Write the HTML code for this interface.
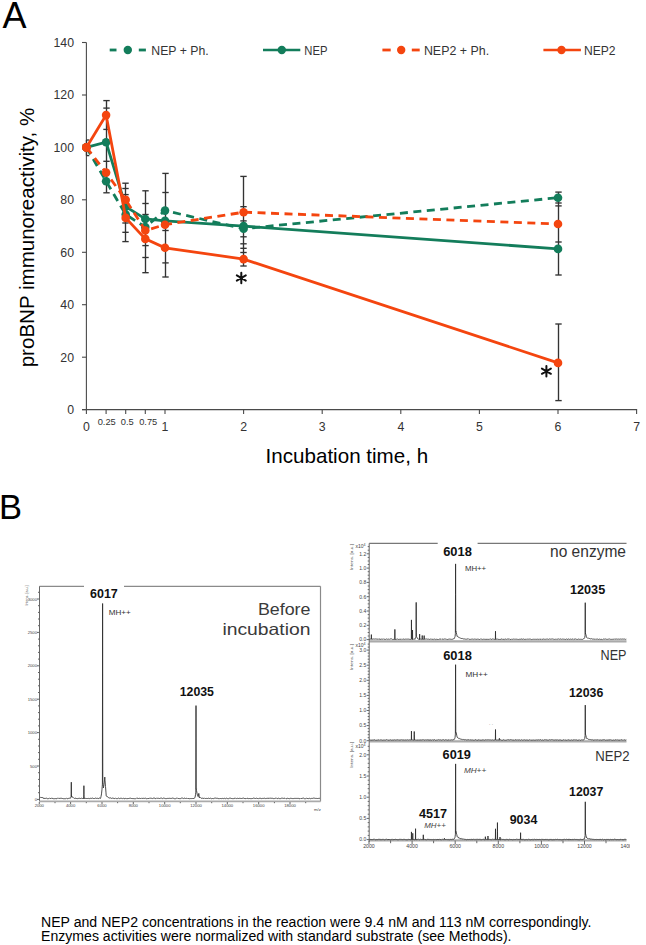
<!DOCTYPE html>
<html><head><meta charset="utf-8"><style>
html,body{margin:0;padding:0;background:#fff;width:646px;height:945px;overflow:hidden}
svg{display:block;font-family:'Liberation Sans', sans-serif}
</style></head><body>
<svg width="646" height="945" viewBox="0 0 646 945">
<text x="2.6" y="28.3" font-size="36" fill="#000">A</text>
<g stroke="#4a4a4a" stroke-width="1.1" fill="none">
<line x1="86.4" y1="42.5" x2="86.4" y2="409.6"/>
<line x1="82" y1="409.6" x2="637.1" y2="409.6"/>
<line x1="82" y1="409.6" x2="86.4" y2="409.6"/>
<line x1="82" y1="357.2" x2="86.4" y2="357.2"/>
<line x1="82" y1="304.7" x2="86.4" y2="304.7"/>
<line x1="82" y1="252.3" x2="86.4" y2="252.3"/>
<line x1="82" y1="199.8" x2="86.4" y2="199.8"/>
<line x1="82" y1="147.4" x2="86.4" y2="147.4"/>
<line x1="82" y1="95.0" x2="86.4" y2="95.0"/>
<line x1="82" y1="42.5" x2="86.4" y2="42.5"/>
<line x1="86.4" y1="409.6" x2="86.4" y2="413.9"/>
<line x1="106.1" y1="409.6" x2="106.1" y2="413.9"/>
<line x1="125.7" y1="409.6" x2="125.7" y2="413.9"/>
<line x1="145.3" y1="409.6" x2="145.3" y2="413.9"/>
<line x1="165.0" y1="409.6" x2="165.0" y2="413.9"/>
<line x1="243.6" y1="409.6" x2="243.6" y2="413.9"/>
<line x1="322.2" y1="409.6" x2="322.2" y2="413.9"/>
<line x1="400.8" y1="409.6" x2="400.8" y2="413.9"/>
<line x1="479.4" y1="409.6" x2="479.4" y2="413.9"/>
<line x1="558.0" y1="409.6" x2="558.0" y2="413.9"/>
<line x1="636.6" y1="409.6" x2="636.6" y2="413.9"/>
</g>
<g font-size="12.3" fill="#333333" text-anchor="end">
<text x="74" y="414.0">0</text>
<text x="74" y="361.6">20</text>
<text x="74" y="309.1">40</text>
<text x="74" y="256.7">60</text>
<text x="74" y="204.2">80</text>
<text x="74" y="151.8">100</text>
<text x="74" y="99.4">120</text>
<text x="74" y="46.9">140</text>
</g>
<g font-size="12.3" fill="#333333" text-anchor="middle">
<text x="86.4" y="430.5">0</text>
<text x="165.0" y="430.5">1</text>
<text x="243.6" y="430.5">2</text>
<text x="322.2" y="430.5">3</text>
<text x="400.8" y="430.5">4</text>
<text x="479.4" y="430.5">5</text>
<text x="558.0" y="430.5">6</text>
<text x="636.6" y="430.5">7</text>
</g>
<g font-size="9.3" fill="#333333" text-anchor="middle">
<text x="106.7" y="424.8">0.25</text><text x="127.3" y="424.8">0.5</text><text x="148.2" y="424.8">0.75</text>
</g>
<text transform="translate(34,367.3) rotate(-90)" font-size="20.3" fill="#000" textLength="259.5" lengthAdjust="spacingAndGlyphs">proBNP immunoreactivity, %</text>
<text x="265.6" y="463.4" font-size="20.2" fill="#000" textLength="162.5" lengthAdjust="spacingAndGlyphs">Incubation time, h</text>
<g stroke="#333" stroke-width="1.35" fill="none">
<line x1="86.5" y1="140.0" x2="86.5" y2="155.6"/>
<line x1="86.5" y1="140.0" x2="89.3" y2="140.0"/>
<line x1="86.5" y1="155.6" x2="89.3" y2="155.6"/>
<line x1="106.5" y1="100.6" x2="106.5" y2="192.8"/>
<line x1="103.3" y1="100.6" x2="109.7" y2="100.6"/>
<line x1="103.3" y1="108.1" x2="109.7" y2="108.1"/>
<line x1="103.3" y1="129.4" x2="109.7" y2="129.4"/>
<line x1="103.3" y1="161.3" x2="109.7" y2="161.3"/>
<line x1="103.3" y1="192.8" x2="109.7" y2="192.8"/>
<line x1="125.5" y1="183.2" x2="125.5" y2="241.6"/>
<line x1="122.3" y1="183.2" x2="128.7" y2="183.2"/>
<line x1="122.3" y1="188.5" x2="128.7" y2="188.5"/>
<line x1="122.3" y1="194.6" x2="128.7" y2="194.6"/>
<line x1="122.3" y1="223.0" x2="128.7" y2="223.0"/>
<line x1="122.3" y1="232.3" x2="128.7" y2="232.3"/>
<line x1="122.3" y1="241.6" x2="128.7" y2="241.6"/>
<line x1="145.5" y1="190.8" x2="145.5" y2="272.7"/>
<line x1="142.3" y1="190.8" x2="148.7" y2="190.8"/>
<line x1="142.3" y1="203.5" x2="148.7" y2="203.5"/>
<line x1="142.3" y1="214.5" x2="148.7" y2="214.5"/>
<line x1="142.3" y1="245.6" x2="148.7" y2="245.6"/>
<line x1="142.3" y1="257.5" x2="148.7" y2="257.5"/>
<line x1="142.3" y1="272.7" x2="148.7" y2="272.7"/>
<line x1="165.5" y1="173.4" x2="165.5" y2="277.0"/>
<line x1="162.3" y1="173.4" x2="168.7" y2="173.4"/>
<line x1="162.3" y1="192.5" x2="168.7" y2="192.5"/>
<line x1="162.3" y1="230.5" x2="168.7" y2="230.5"/>
<line x1="162.3" y1="262.9" x2="168.7" y2="262.9"/>
<line x1="162.3" y1="277.0" x2="168.7" y2="277.0"/>
<line x1="243.5" y1="176.4" x2="243.5" y2="266.0"/>
<line x1="240.3" y1="176.4" x2="246.7" y2="176.4"/>
<line x1="240.3" y1="206.7" x2="246.7" y2="206.7"/>
<line x1="240.3" y1="220.9" x2="246.7" y2="220.9"/>
<line x1="240.3" y1="236.8" x2="246.7" y2="236.8"/>
<line x1="240.3" y1="243.8" x2="246.7" y2="243.8"/>
<line x1="240.3" y1="248.3" x2="246.7" y2="248.3"/>
<line x1="240.3" y1="252.5" x2="246.7" y2="252.5"/>
<line x1="240.3" y1="266.0" x2="246.7" y2="266.0"/>
<line x1="558.5" y1="192.1" x2="558.5" y2="275.0"/>
<line x1="555.3" y1="192.1" x2="561.7" y2="192.1"/>
<line x1="555.3" y1="203.0" x2="561.7" y2="203.0"/>
<line x1="555.3" y1="205.9" x2="561.7" y2="205.9"/>
<line x1="555.3" y1="242.0" x2="561.7" y2="242.0"/>
<line x1="555.3" y1="275.0" x2="561.7" y2="275.0"/>
<line x1="558.5" y1="324.0" x2="558.5" y2="400.6"/>
<line x1="555.3" y1="324.0" x2="561.7" y2="324.0"/>
<line x1="555.3" y1="400.6" x2="561.7" y2="400.6"/>
</g>
<polyline points="86.4,147.4 106.1,181.2 125.7,214.5 145.3,227.1 165.0,210.6 243.6,228.7 558.0,197.7" fill="none" stroke="#137d5b" stroke-width="2.8" stroke-dasharray="8 5.5"/>
<circle cx="86.4" cy="147.4" r="4.3" fill="#137d5b"/>
<circle cx="106.1" cy="181.2" r="4.3" fill="#137d5b"/>
<circle cx="125.7" cy="214.5" r="4.3" fill="#137d5b"/>
<circle cx="145.3" cy="227.1" r="4.3" fill="#137d5b"/>
<circle cx="165.0" cy="210.6" r="4.3" fill="#137d5b"/>
<circle cx="243.6" cy="228.7" r="4.3" fill="#137d5b"/>
<circle cx="558.0" cy="197.7" r="4.3" fill="#137d5b"/>
<polyline points="86.4,147.4 106.1,142.2 125.7,206.7 145.3,219.0 165.0,220.8 243.6,226.1 558.0,248.9" fill="none" stroke="#137d5b" stroke-width="2.8"/>
<circle cx="86.4" cy="147.4" r="4.3" fill="#137d5b"/>
<circle cx="106.1" cy="142.2" r="4.3" fill="#137d5b"/>
<circle cx="125.7" cy="206.7" r="4.3" fill="#137d5b"/>
<circle cx="145.3" cy="219.0" r="4.3" fill="#137d5b"/>
<circle cx="165.0" cy="220.8" r="4.3" fill="#137d5b"/>
<circle cx="243.6" cy="226.1" r="4.3" fill="#137d5b"/>
<circle cx="558.0" cy="248.9" r="4.3" fill="#137d5b"/>
<polyline points="86.4,147.4 106.1,172.6 125.7,199.8 145.3,230.5 165.0,224.7 243.6,212.2 558.0,224.0" fill="none" stroke="#f4450f" stroke-width="2.8" stroke-dasharray="8 5.5"/>
<circle cx="86.4" cy="147.4" r="4.3" fill="#f4450f"/>
<circle cx="106.1" cy="172.6" r="4.3" fill="#f4450f"/>
<circle cx="125.7" cy="199.8" r="4.3" fill="#f4450f"/>
<circle cx="145.3" cy="230.5" r="4.3" fill="#f4450f"/>
<circle cx="165.0" cy="224.7" r="4.3" fill="#f4450f"/>
<circle cx="243.6" cy="212.2" r="4.3" fill="#f4450f"/>
<circle cx="558.0" cy="224.0" r="4.3" fill="#f4450f"/>
<polyline points="86.4,147.4 106.1,115.1 125.7,217.9 145.3,238.9 165.0,247.8 243.6,259.1 558.0,362.9" fill="none" stroke="#f4450f" stroke-width="2.8"/>
<circle cx="86.4" cy="147.4" r="4.3" fill="#f4450f"/>
<circle cx="106.1" cy="115.1" r="4.3" fill="#f4450f"/>
<circle cx="125.7" cy="217.9" r="4.3" fill="#f4450f"/>
<circle cx="145.3" cy="238.9" r="4.3" fill="#f4450f"/>
<circle cx="165.0" cy="247.8" r="4.3" fill="#f4450f"/>
<circle cx="243.6" cy="259.1" r="4.3" fill="#f4450f"/>
<circle cx="558.0" cy="362.9" r="4.3" fill="#f4450f"/>
<path d="M241.30,272.80L241.30,283.20M236.80,275.40L245.80,280.60M245.80,275.40L236.80,280.60" stroke="#111" stroke-width="2.0" stroke-linecap="round" fill="none"/><circle cx="241.3" cy="278" r="1.8" fill="#111"/>
<path d="M546.40,366.00L546.40,376.40M541.90,368.60L550.90,373.80M550.90,368.60L541.90,373.80" stroke="#111" stroke-width="2.0" stroke-linecap="round" fill="none"/><circle cx="546.4" cy="371.2" r="1.8" fill="#111"/>
<line x1="109.7" y1="50" x2="116.5" y2="50" stroke="#137d5b" stroke-width="2.8"/>
<circle cx="127.8" cy="50" r="4.2" fill="#137d5b"/>
<line x1="138.8" y1="50" x2="145.9" y2="50" stroke="#137d5b" stroke-width="2.8"/>
<text x="151.3" y="54.5" font-size="12.3" fill="#333333" textLength="57.4" lengthAdjust="spacingAndGlyphs">NEP + Ph.</text>
<line x1="263" y1="50" x2="300.3" y2="50" stroke="#137d5b" stroke-width="2.6"/><circle cx="281.8" cy="50" r="4.2" fill="#137d5b"/>
<text x="304.3" y="54.5" font-size="12.3" fill="#333333" textLength="23.2" lengthAdjust="spacingAndGlyphs">NEP</text>
<line x1="382.4" y1="50" x2="390.7" y2="50" stroke="#f4450f" stroke-width="2.8"/>
<circle cx="401.2" cy="50" r="4.2" fill="#f4450f"/>
<line x1="411.8" y1="50" x2="419.7" y2="50" stroke="#f4450f" stroke-width="2.8"/>
<text x="423.9" y="54.5" font-size="12.3" fill="#333333" textLength="65.2" lengthAdjust="spacingAndGlyphs">NEP2 + Ph.</text>
<line x1="543.4" y1="50" x2="580.9" y2="50" stroke="#f4450f" stroke-width="2.6"/><circle cx="561.5" cy="50" r="4.2" fill="#f4450f"/>
<text x="584" y="54.5" font-size="12.3" fill="#333333" textLength="31.6" lengthAdjust="spacingAndGlyphs">NEP2</text>
<text x="-0.9" y="518.8" font-size="34.5" fill="#000">B</text>
<g stroke="#8a8a8a" stroke-width="1.2" fill="none">
<line x1="39.5" y1="586.3" x2="84" y2="586.3"/><line x1="124" y1="586.3" x2="320.5" y2="586.3"/>
<line x1="320.5" y1="586.3" x2="320.5" y2="801.5"/>
</g>
<g stroke="#666" stroke-width="1" fill="none">
<line x1="39.5" y1="586.3" x2="39.5" y2="801.5"/>
<line x1="39.5" y1="801.3" x2="320.5" y2="801.3" stroke="#aaa" stroke-width="1.8"/>
<line x1="37.0" y1="799.4" x2="39.5" y2="799.4"/>
<line x1="38.0" y1="792.7" x2="39.5" y2="792.7"/>
<line x1="38.0" y1="786.0" x2="39.5" y2="786.0"/>
<line x1="38.0" y1="779.4" x2="39.5" y2="779.4"/>
<line x1="38.0" y1="772.7" x2="39.5" y2="772.7"/>
<line x1="37.0" y1="766.0" x2="39.5" y2="766.0"/>
<line x1="38.0" y1="759.3" x2="39.5" y2="759.3"/>
<line x1="38.0" y1="752.6" x2="39.5" y2="752.6"/>
<line x1="38.0" y1="746.0" x2="39.5" y2="746.0"/>
<line x1="38.0" y1="739.3" x2="39.5" y2="739.3"/>
<line x1="37.0" y1="732.6" x2="39.5" y2="732.6"/>
<line x1="38.0" y1="725.9" x2="39.5" y2="725.9"/>
<line x1="38.0" y1="719.2" x2="39.5" y2="719.2"/>
<line x1="38.0" y1="712.6" x2="39.5" y2="712.6"/>
<line x1="38.0" y1="705.9" x2="39.5" y2="705.9"/>
<line x1="37.0" y1="699.2" x2="39.5" y2="699.2"/>
<line x1="38.0" y1="692.5" x2="39.5" y2="692.5"/>
<line x1="38.0" y1="685.8" x2="39.5" y2="685.8"/>
<line x1="38.0" y1="679.2" x2="39.5" y2="679.2"/>
<line x1="38.0" y1="672.5" x2="39.5" y2="672.5"/>
<line x1="37.0" y1="665.8" x2="39.5" y2="665.8"/>
<line x1="38.0" y1="659.1" x2="39.5" y2="659.1"/>
<line x1="38.0" y1="652.4" x2="39.5" y2="652.4"/>
<line x1="38.0" y1="645.8" x2="39.5" y2="645.8"/>
<line x1="38.0" y1="639.1" x2="39.5" y2="639.1"/>
<line x1="37.0" y1="632.4" x2="39.5" y2="632.4"/>
<line x1="38.0" y1="625.7" x2="39.5" y2="625.7"/>
<line x1="38.0" y1="619.0" x2="39.5" y2="619.0"/>
<line x1="38.0" y1="612.4" x2="39.5" y2="612.4"/>
<line x1="38.0" y1="605.7" x2="39.5" y2="605.7"/>
<line x1="37.0" y1="599.0" x2="39.5" y2="599.0"/>
<line x1="38.0" y1="592.3" x2="39.5" y2="592.3"/>
<line x1="39.3" y1="802" x2="39.3" y2="804.2"/>
<line x1="55.0" y1="802" x2="55.0" y2="803.2"/>
<line x1="70.6" y1="802" x2="70.6" y2="804.2"/>
<line x1="86.3" y1="802" x2="86.3" y2="803.2"/>
<line x1="102.0" y1="802" x2="102.0" y2="804.2"/>
<line x1="117.6" y1="802" x2="117.6" y2="803.2"/>
<line x1="133.3" y1="802" x2="133.3" y2="804.2"/>
<line x1="149.0" y1="802" x2="149.0" y2="803.2"/>
<line x1="164.7" y1="802" x2="164.7" y2="804.2"/>
<line x1="180.3" y1="802" x2="180.3" y2="803.2"/>
<line x1="196.0" y1="802" x2="196.0" y2="804.2"/>
<line x1="211.7" y1="802" x2="211.7" y2="803.2"/>
<line x1="227.3" y1="802" x2="227.3" y2="804.2"/>
<line x1="243.0" y1="802" x2="243.0" y2="803.2"/>
<line x1="258.7" y1="802" x2="258.7" y2="804.2"/>
<line x1="274.4" y1="802" x2="274.4" y2="803.2"/>
<line x1="290.0" y1="802" x2="290.0" y2="804.2"/>
<line x1="305.7" y1="802" x2="305.7" y2="803.2"/>
</g>
<g font-size="4.2" fill="#444" text-anchor="end">
<text x="37" y="800.9">0</text>
<text x="37" y="767.5">500</text>
<text x="37" y="734.1">1000</text>
<text x="37" y="700.7">1500</text>
<text x="37" y="667.3">2000</text>
<text x="37" y="633.9">2500</text>
<text x="37" y="600.5">3000</text>
</g>
<g font-size="4.2" fill="#444" text-anchor="middle">
<text x="39.3" y="807.3">2000</text>
<text x="70.6" y="807.3">4000</text>
<text x="102.0" y="807.3">6000</text>
<text x="133.3" y="807.3">8000</text>
<text x="164.7" y="807.3">10000</text>
<text x="196.0" y="807.3">12000</text>
<text x="227.3" y="807.3">14000</text>
<text x="258.7" y="807.3">16000</text>
<text x="290.0" y="807.3">18000</text>
<text x="317.4" y="811">m/z</text>
</g>
<text transform="translate(28.3,605.4) rotate(-90)" font-size="3.6" fill="#444">Intens. [a.u.]</text>
<path d="M40.00,797.4 L40.50,797.4 L40.87,797.1 L41.00,797.3 L41.50,797.5 L42.00,797.3 L42.50,797.5 L43.00,798.3 L43.50,798.1 L43.87,798.2 L44.00,798.7 L44.50,798.4 L45.00,798.6 L45.50,798.4 L46.00,798.5 L46.50,798.2 L47.00,798.5 L47.50,798.7 L48.00,798.4 L48.50,798.6 L49.00,798.5 L49.50,798.1 L50.00,798.6 L50.50,798.5 L51.00,798.3 L51.50,798.1 L52.00,798.7 L52.50,798.4 L53.00,798.6 L53.50,798.7 L54.00,798.5 L54.50,798.7 L55.00,798.3 L55.50,798.6 L56.00,798.4 L56.50,798.7 L57.00,798.7 L57.50,798.1 L58.00,798.1 L58.50,798.2 L59.00,798.7 L59.50,798.4 L60.00,798.5 L60.50,798.3 L61.00,798.4 L61.50,798.3 L62.00,798.3 L62.50,798.5 L63.00,798.5 L63.50,798.7 L64.00,798.5 L64.50,798.7 L65.00,798.6 L65.50,798.7 L66.00,798.5 L66.50,798.2 L67.00,798.7 L67.50,798.7 L68.00,798.7 L68.50,798.4 L69.00,798.5 L69.50,798.2 L70.00,798.6 L70.50,798.2 L71.00,797.1 L71.15,796.4 L71.30,782.2 L71.45,796.5 L71.50,795.9 L72.00,797.0 L72.50,797.2 L73.00,797.4 L73.50,797.7 L74.00,798.2 L74.50,798.4 L75.00,797.9 L75.50,798.3 L76.00,798.0 L76.50,798.5 L77.00,798.2 L77.50,798.6 L78.00,798.7 L78.50,798.4 L79.00,798.7 L79.50,798.3 L80.00,798.1 L80.50,798.5 L81.00,798.1 L81.50,798.2 L82.00,798.3 L82.50,798.5 L83.00,798.2 L83.50,798.1 L83.75,798.7 L83.90,785.7 L84.00,794.5 L84.05,798.7 L84.50,798.3 L85.00,798.4 L85.50,798.4 L86.00,798.5 L86.50,798.5 L87.00,798.4 L87.50,798.5 L88.00,798.7 L88.50,798.4 L89.00,798.4 L89.50,798.6 L90.00,798.2 L90.50,798.3 L91.00,798.7 L91.50,798.4 L92.00,798.4 L92.50,798.1 L93.00,798.3 L93.50,798.5 L94.00,798.1 L94.50,798.5 L95.00,798.5 L95.50,798.1 L96.00,798.5 L96.50,798.4 L97.00,798.5 L97.50,798.3 L98.00,798.5 L98.50,798.6 L99.00,798.0 L99.50,798.0 L100.00,798.4 L100.50,798.4 L100.70,797.8 L101.00,796.6 L101.50,793.9 L102.00,789.2 L102.20,786.5 L102.40,784.2 L102.50,694.0 L102.60,603.5 L102.80,782.5 L103.00,784.3 L103.40,787.9 L103.50,787.0 L103.70,786.5 L104.00,784.3 L104.50,779.8 L104.80,777.1 L105.00,780.2 L105.50,786.5 L106.00,792.9 L106.20,795.6 L106.50,796.2 L107.00,796.2 L107.50,796.8 L108.00,797.1 L108.50,797.7 L109.00,797.6 L109.50,798.0 L110.00,797.7 L110.50,797.9 L111.00,798.2 L111.50,798.4 L112.00,798.2 L112.50,798.1 L113.00,798.0 L113.50,798.3 L114.00,798.1 L114.50,798.6 L115.00,798.6 L115.50,798.1 L116.00,798.2 L116.50,798.6 L117.00,798.5 L117.50,798.6 L118.00,798.3 L118.50,798.1 L119.00,798.2 L119.50,798.6 L120.00,798.2 L120.50,798.3 L121.00,798.3 L121.50,798.3 L122.00,798.3 L122.50,798.7 L123.00,798.2 L123.50,798.1 L124.00,798.7 L124.50,798.7 L125.00,798.7 L125.50,798.4 L126.00,798.7 L126.50,798.7 L127.00,798.2 L127.50,798.6 L128.00,798.6 L128.50,798.5 L129.00,798.4 L129.50,798.3 L130.00,798.3 L130.50,798.2 L131.00,798.1 L131.50,798.5 L132.00,798.3 L132.50,798.6 L133.00,798.1 L133.50,798.7 L134.00,798.5 L134.50,798.7 L135.00,798.7 L135.50,798.7 L136.00,798.5 L136.50,798.1 L137.00,798.6 L137.50,798.2 L138.00,798.3 L138.50,798.5 L139.00,798.4 L139.50,798.3 L140.00,798.7 L140.50,798.5 L141.00,798.3 L141.50,798.2 L142.00,798.7 L142.50,798.4 L143.00,798.6 L143.50,798.3 L144.00,798.2 L144.50,798.4 L145.00,798.6 L145.50,798.2 L146.00,798.6 L146.50,798.7 L147.00,798.6 L147.50,798.6 L148.00,798.1 L148.50,798.5 L149.00,798.7 L149.50,798.1 L150.00,798.2 L150.50,798.2 L151.00,798.4 L151.50,798.3 L152.00,798.4 L152.50,798.6 L153.00,798.1 L153.50,798.1 L154.00,798.1 L154.50,798.1 L155.00,798.1 L155.50,798.7 L156.00,798.6 L156.50,798.1 L157.00,798.4 L157.50,798.3 L158.00,798.3 L158.50,798.3 L159.00,798.5 L159.50,798.5 L160.00,798.3 L160.50,798.2 L161.00,798.3 L161.50,798.1 L162.00,798.4 L162.50,798.6 L163.00,798.3 L163.50,798.1 L164.00,798.2 L164.50,798.3 L165.00,798.5 L165.50,798.6 L166.00,798.3 L166.50,798.6 L167.00,798.5 L167.50,798.4 L168.00,798.3 L168.50,798.4 L169.00,798.5 L169.50,798.3 L170.00,798.5 L170.50,798.4 L171.00,798.2 L171.50,798.4 L172.00,798.5 L172.50,798.1 L173.00,798.3 L173.50,798.3 L174.00,798.7 L174.50,798.7 L175.00,798.3 L175.50,798.7 L176.00,798.6 L176.50,798.2 L177.00,798.4 L177.50,798.1 L178.00,798.6 L178.50,798.5 L179.00,798.7 L179.50,798.6 L180.00,798.5 L180.50,798.6 L181.00,798.4 L181.50,798.1 L182.00,798.5 L182.50,798.1 L183.00,798.2 L183.50,798.6 L184.00,798.1 L184.50,798.1 L185.00,798.1 L185.50,798.7 L186.00,798.2 L186.50,798.1 L187.00,798.6 L187.50,798.1 L188.00,798.6 L188.50,798.5 L189.00,798.6 L189.50,798.7 L190.00,798.5 L190.50,798.6 L191.00,798.1 L191.50,798.6 L192.00,798.4 L192.50,798.5 L193.00,798.1 L193.50,798.5 L194.00,798.6 L194.50,797.8 L195.00,797.6 L195.50,794.7 L195.80,792.2 L196.00,705.6 L196.20,789.0 L196.30,788.9 L196.50,790.4 L197.00,793.2 L197.50,795.6 L197.60,796.1 L198.00,796.5 L198.20,796.6 L198.50,795.2 L198.80,793.4 L199.00,795.0 L199.40,797.8 L199.50,797.5 L200.00,797.9 L200.50,797.6 L201.00,798.1 L201.50,798.3 L202.00,798.3 L202.50,798.2 L203.00,798.2 L203.50,798.4 L204.00,798.6 L204.50,798.1 L205.00,798.1 L205.50,798.5 L206.00,798.7 L206.50,798.4 L207.00,798.3 L207.50,798.5 L208.00,798.2 L208.50,798.2 L209.00,798.2 L209.50,798.5 L210.00,798.3 L210.50,798.2 L211.00,798.5 L211.50,798.7 L212.00,798.3 L212.50,798.5 L213.00,798.3 L213.50,798.6 L214.00,798.5 L214.50,798.2 L215.00,798.2 L215.50,798.1 L216.00,798.4 L216.50,798.3 L217.00,798.2 L217.50,798.3 L218.00,798.3 L218.50,798.6 L219.00,798.2 L219.50,798.7 L220.00,798.4 L220.50,798.5 L221.00,798.4 L221.50,798.6 L222.00,798.6 L222.50,798.4 L223.00,798.4 L223.50,798.6 L224.00,798.6 L224.50,798.3 L225.00,798.6 L225.50,798.7 L226.00,798.4 L226.50,798.2 L227.00,798.2 L227.50,798.6 L228.00,798.5 L228.50,798.7 L229.00,798.6 L229.50,798.2 L230.00,798.2 L230.50,798.2 L231.00,798.2 L231.50,798.5 L232.00,798.7 L232.50,798.7 L233.00,798.2 L233.50,798.7 L234.00,798.3 L234.50,798.3 L235.00,798.6 L235.50,798.1 L236.00,798.1 L236.50,798.6 L237.00,798.3 L237.50,798.3 L238.00,798.5 L238.50,798.5 L239.00,798.1 L239.50,798.3 L240.00,798.4 L240.50,798.4 L241.00,798.2 L241.50,798.5 L242.00,798.7 L242.50,798.3 L243.00,798.4 L243.50,798.1 L244.00,798.2 L244.50,798.5 L245.00,798.1 L245.50,798.7 L246.00,798.7 L246.50,798.1 L247.00,798.7 L247.50,798.3 L248.00,798.6 L248.50,798.6 L249.00,798.3 L249.50,798.5 L250.00,798.5 L250.50,798.6 L251.00,798.2 L251.50,798.6 L252.00,798.7 L252.50,798.5 L253.00,798.4 L253.50,798.1 L254.00,798.4 L254.50,798.3 L255.00,798.6 L255.50,798.5 L256.00,798.4 L256.50,798.2 L257.00,798.5 L257.50,798.5 L258.00,798.2 L258.50,798.7 L259.00,798.5 L259.50,798.1 L260.00,798.7 L260.50,798.1 L261.00,798.3 L261.50,798.6 L262.00,798.5 L262.50,798.4 L263.00,798.5 L263.50,798.4 L264.00,798.3 L264.50,798.2 L265.00,798.1 L265.50,798.6 L266.00,798.6 L266.50,798.4 L267.00,798.6 L267.50,798.3 L268.00,798.2 L268.50,798.3 L269.00,798.7 L269.50,798.1 L270.00,798.4 L270.50,798.2 L271.00,798.6 L271.50,798.3 L272.00,798.3 L272.50,798.3 L273.00,798.4 L273.50,798.6 L274.00,798.3 L274.50,798.6 L275.00,798.1 L275.50,798.2 L276.00,798.1 L276.50,798.1 L277.00,798.6 L277.50,798.6 L278.00,798.2 L278.50,798.2 L279.00,798.3 L279.50,798.6 L280.00,798.6 L280.50,798.6 L281.00,798.5 L281.50,798.2 L282.00,798.3 L282.50,798.2 L283.00,798.4 L283.50,798.4 L284.00,798.2 L284.50,798.2 L285.00,798.6 L285.50,798.1 L286.00,798.6 L286.50,798.7 L287.00,798.7 L287.50,798.3 L288.00,798.4 L288.50,798.5 L289.00,798.5 L289.50,798.7 L290.00,798.5 L290.50,798.3 L291.00,798.7 L291.50,798.4 L292.00,798.5 L292.50,798.6 L293.00,798.1 L293.50,798.6 L294.00,798.5 L294.50,798.4 L295.00,798.4 L295.50,798.4 L296.00,798.2 L296.50,798.4 L297.00,798.1 L297.50,798.4 L298.00,798.5 L298.50,798.4 L299.00,798.4 L299.50,798.7 L300.00,798.7 L300.50,798.1 L301.00,798.6 L301.50,798.5 L302.00,798.1 L302.50,798.3 L303.00,798.2 L303.50,798.1 L304.00,798.4 L304.50,798.7 L305.00,798.3 L305.50,798.7 L306.00,798.5 L306.50,798.1 L307.00,798.7 L307.50,798.5 L308.00,798.7 L308.50,798.6 L309.00,798.6 L309.50,798.3 L310.00,798.6 L310.50,798.7 L311.00,798.7 L311.50,798.4 L312.00,798.6 L312.50,798.4 L313.00,798.1 L313.50,798.1 L314.00,798.1 L314.50,798.2 L315.00,798.2 L315.50,798.4 L316.00,798.5 L316.50,798.4 L317.00,798.3 L317.50,798.5 L318.00,798.3 L318.50,798.4 L319.00,798.6 L319.50,798.3 L320.00,798.2" fill="none" stroke="#2a2a2a" stroke-width="0.85"/>
<text x="90" y="597.6" font-size="13.5" font-weight="bold" fill="#111" textLength="27.8" lengthAdjust="spacingAndGlyphs">6017</text>
<text x="108.7" y="615.3" font-size="8" fill="#333" textLength="22" lengthAdjust="spacingAndGlyphs">MH++</text>
<text x="257.9" y="614.7" font-size="16.5" fill="#3a3a3a" textLength="52.6" lengthAdjust="spacingAndGlyphs">Before</text>
<text x="222.4" y="635" font-size="16.5" fill="#3a3a3a" textLength="88.1" lengthAdjust="spacingAndGlyphs">incubation</text>
<text x="179.7" y="695.8" font-size="13.5" font-weight="bold" fill="#111" textLength="34.3" lengthAdjust="spacingAndGlyphs">12035</text>
<g stroke="#777" stroke-width="1.2" fill="none">
<line x1="369.2" y1="543.4" x2="437.7" y2="543.4"/><line x1="477.6" y1="543.4" x2="626.5" y2="543.4"/>
</g>
<g stroke="#aaa" stroke-width="2.4" fill="none">
<line x1="369.2" y1="641.4" x2="626.5" y2="641.4"/>
<line x1="369.2" y1="741.4" x2="626.5" y2="741.4"/>
<line x1="369.2" y1="840.4" x2="626.5" y2="840.4"/>
</g>
<g stroke="#666" stroke-width="1" fill="none"><line x1="369.2" y1="543.4" x2="369.2" y2="842"/>
<line x1="366.7" y1="639.6" x2="369.2" y2="639.6"/>
<line x1="367.7" y1="636.0" x2="369.2" y2="636.0"/>
<line x1="367.7" y1="632.5" x2="369.2" y2="632.5"/>
<line x1="367.7" y1="628.9" x2="369.2" y2="628.9"/>
<line x1="366.7" y1="625.3" x2="369.2" y2="625.3"/>
<line x1="367.7" y1="621.7" x2="369.2" y2="621.7"/>
<line x1="367.7" y1="618.1" x2="369.2" y2="618.1"/>
<line x1="367.7" y1="614.6" x2="369.2" y2="614.6"/>
<line x1="366.7" y1="611.0" x2="369.2" y2="611.0"/>
<line x1="367.7" y1="607.4" x2="369.2" y2="607.4"/>
<line x1="367.7" y1="603.9" x2="369.2" y2="603.9"/>
<line x1="367.7" y1="600.3" x2="369.2" y2="600.3"/>
<line x1="366.7" y1="596.7" x2="369.2" y2="596.7"/>
<line x1="367.7" y1="593.1" x2="369.2" y2="593.1"/>
<line x1="367.7" y1="589.6" x2="369.2" y2="589.6"/>
<line x1="367.7" y1="586.0" x2="369.2" y2="586.0"/>
<line x1="366.7" y1="582.4" x2="369.2" y2="582.4"/>
<line x1="367.7" y1="578.8" x2="369.2" y2="578.8"/>
<line x1="367.7" y1="575.2" x2="369.2" y2="575.2"/>
<line x1="367.7" y1="571.7" x2="369.2" y2="571.7"/>
<line x1="366.7" y1="568.1" x2="369.2" y2="568.1"/>
<line x1="367.7" y1="564.5" x2="369.2" y2="564.5"/>
<line x1="367.7" y1="561.0" x2="369.2" y2="561.0"/>
<line x1="367.7" y1="557.4" x2="369.2" y2="557.4"/>
<line x1="366.7" y1="553.8" x2="369.2" y2="553.8"/>
<line x1="367.7" y1="550.2" x2="369.2" y2="550.2"/>
<line x1="367.7" y1="546.6" x2="369.2" y2="546.6"/>
<line x1="366.7" y1="740.7" x2="369.2" y2="740.7"/>
<line x1="367.7" y1="737.7" x2="369.2" y2="737.7"/>
<line x1="367.7" y1="734.7" x2="369.2" y2="734.7"/>
<line x1="367.7" y1="731.6" x2="369.2" y2="731.6"/>
<line x1="367.7" y1="728.6" x2="369.2" y2="728.6"/>
<line x1="366.7" y1="725.6" x2="369.2" y2="725.6"/>
<line x1="367.7" y1="722.6" x2="369.2" y2="722.6"/>
<line x1="367.7" y1="719.6" x2="369.2" y2="719.6"/>
<line x1="367.7" y1="716.5" x2="369.2" y2="716.5"/>
<line x1="367.7" y1="713.5" x2="369.2" y2="713.5"/>
<line x1="366.7" y1="710.5" x2="369.2" y2="710.5"/>
<line x1="367.7" y1="707.5" x2="369.2" y2="707.5"/>
<line x1="367.7" y1="704.5" x2="369.2" y2="704.5"/>
<line x1="367.7" y1="701.4" x2="369.2" y2="701.4"/>
<line x1="367.7" y1="698.4" x2="369.2" y2="698.4"/>
<line x1="366.7" y1="695.4" x2="369.2" y2="695.4"/>
<line x1="367.7" y1="692.4" x2="369.2" y2="692.4"/>
<line x1="367.7" y1="689.4" x2="369.2" y2="689.4"/>
<line x1="367.7" y1="686.3" x2="369.2" y2="686.3"/>
<line x1="367.7" y1="683.3" x2="369.2" y2="683.3"/>
<line x1="366.7" y1="680.3" x2="369.2" y2="680.3"/>
<line x1="367.7" y1="677.3" x2="369.2" y2="677.3"/>
<line x1="367.7" y1="674.3" x2="369.2" y2="674.3"/>
<line x1="367.7" y1="671.2" x2="369.2" y2="671.2"/>
<line x1="367.7" y1="668.2" x2="369.2" y2="668.2"/>
<line x1="366.7" y1="665.2" x2="369.2" y2="665.2"/>
<line x1="367.7" y1="662.2" x2="369.2" y2="662.2"/>
<line x1="367.7" y1="659.2" x2="369.2" y2="659.2"/>
<line x1="367.7" y1="656.1" x2="369.2" y2="656.1"/>
<line x1="367.7" y1="653.1" x2="369.2" y2="653.1"/>
<line x1="366.7" y1="650.1" x2="369.2" y2="650.1"/>
<line x1="367.7" y1="647.1" x2="369.2" y2="647.1"/>
<line x1="367.7" y1="644.1" x2="369.2" y2="644.1"/>
<line x1="366.7" y1="839.6" x2="369.2" y2="839.6"/>
<line x1="367.7" y1="835.4" x2="369.2" y2="835.4"/>
<line x1="367.7" y1="831.1" x2="369.2" y2="831.1"/>
<line x1="367.7" y1="826.9" x2="369.2" y2="826.9"/>
<line x1="367.7" y1="822.6" x2="369.2" y2="822.6"/>
<line x1="366.7" y1="818.4" x2="369.2" y2="818.4"/>
<line x1="367.7" y1="814.2" x2="369.2" y2="814.2"/>
<line x1="367.7" y1="809.9" x2="369.2" y2="809.9"/>
<line x1="367.7" y1="805.7" x2="369.2" y2="805.7"/>
<line x1="367.7" y1="801.4" x2="369.2" y2="801.4"/>
<line x1="366.7" y1="797.2" x2="369.2" y2="797.2"/>
<line x1="367.7" y1="793.0" x2="369.2" y2="793.0"/>
<line x1="367.7" y1="788.7" x2="369.2" y2="788.7"/>
<line x1="367.7" y1="784.5" x2="369.2" y2="784.5"/>
<line x1="367.7" y1="780.2" x2="369.2" y2="780.2"/>
<line x1="366.7" y1="776.0" x2="369.2" y2="776.0"/>
<line x1="367.7" y1="771.8" x2="369.2" y2="771.8"/>
<line x1="367.7" y1="767.5" x2="369.2" y2="767.5"/>
<line x1="367.7" y1="763.3" x2="369.2" y2="763.3"/>
<line x1="367.7" y1="759.0" x2="369.2" y2="759.0"/>
<line x1="366.7" y1="754.8" x2="369.2" y2="754.8"/>
<line x1="367.7" y1="750.6" x2="369.2" y2="750.6"/>
<line x1="367.7" y1="746.3" x2="369.2" y2="746.3"/>
<line x1="369.0" y1="840.6" x2="369.0" y2="844.2"/>
<line x1="390.6" y1="840.6" x2="390.6" y2="843.2"/>
<line x1="412.1" y1="840.6" x2="412.1" y2="844.2"/>
<line x1="433.6" y1="840.6" x2="433.6" y2="843.2"/>
<line x1="455.2" y1="840.6" x2="455.2" y2="844.2"/>
<line x1="476.8" y1="840.6" x2="476.8" y2="843.2"/>
<line x1="498.3" y1="840.6" x2="498.3" y2="844.2"/>
<line x1="519.9" y1="840.6" x2="519.9" y2="843.2"/>
<line x1="541.4" y1="840.6" x2="541.4" y2="844.2"/>
<line x1="563.0" y1="840.6" x2="563.0" y2="843.2"/>
<line x1="584.5" y1="840.6" x2="584.5" y2="844.2"/>
<line x1="606.0" y1="840.6" x2="606.0" y2="843.2"/>
</g>
<g font-size="5" fill="#444" text-anchor="end">
<text x="366.3" y="641.4">0.0</text>
<text x="366.3" y="627.1">0.2</text>
<text x="366.3" y="612.8">0.4</text>
<text x="366.3" y="598.5">0.6</text>
<text x="366.3" y="584.2">0.8</text>
<text x="366.3" y="569.9">1.0</text>
<text x="366.3" y="555.6">1.2</text>
<text x="366.3" y="742.5">0.0</text>
<text x="366.3" y="727.4">0.5</text>
<text x="366.3" y="712.3">1.0</text>
<text x="366.3" y="697.2">1.5</text>
<text x="366.3" y="682.1">2.0</text>
<text x="366.3" y="667.0">2.5</text>
<text x="366.3" y="651.9">3.0</text>
<text x="366.3" y="841.4">0.0</text>
<text x="366.3" y="820.2">0.5</text>
<text x="366.3" y="799.0">1.0</text>
<text x="366.3" y="777.8">1.5</text>
<text x="366.3" y="756.6">2.0</text>
</g>
<text x="355.5" y="547.9000000000001" font-size="5" fill="#444">x10<tspan font-size="3.6" dy="-1.8">4</tspan></text>
<text x="355.5" y="646.7" font-size="5" fill="#444">x10<tspan font-size="3.6" dy="-1.8">4</tspan></text>
<text x="355.5" y="747.7" font-size="5" fill="#444">x10<tspan font-size="3.6" dy="-1.8">4</tspan></text>
<text transform="translate(352.8,570) rotate(-90)" font-size="4" fill="#555" textLength="26" lengthAdjust="spacingAndGlyphs">Intens. [a.u.]</text>
<text transform="translate(352.8,670) rotate(-90)" font-size="4" fill="#555" textLength="26" lengthAdjust="spacingAndGlyphs">Intens. [a.u.]</text>
<text transform="translate(352.8,767.8) rotate(-90)" font-size="4" fill="#555" textLength="26" lengthAdjust="spacingAndGlyphs">Intens. [a.u.]</text>
<svg x="0" y="0" width="630" height="945" overflow="hidden"><g font-size="5.2" fill="#444" text-anchor="middle">
<text x="369.0" y="848.4">2000</text>
<text x="412.1" y="848.4">4000</text>
<text x="455.2" y="848.4">6000</text>
<text x="498.3" y="848.4">8000</text>
<text x="541.4" y="848.4">10000</text>
<text x="584.5" y="848.4">12000</text>
<text x="627.6" y="848.4">14000</text>
</g></svg>
<path d="M369.50,639.4 L369.90,639.3 L370.30,639.1 L370.70,639.1 L371.10,639.2 L371.25,639.3 L371.37,634.6 L371.49,638.9 L371.50,639.0 L371.90,639.4 L372.30,639.0 L372.70,639.2 L373.10,639.0 L373.50,639.0 L373.90,639.0 L374.30,639.1 L374.70,639.0 L375.10,638.9 L375.50,639.0 L375.90,639.0 L376.30,639.2 L376.70,638.9 L377.10,638.9 L377.50,639.2 L377.90,639.1 L378.30,639.3 L378.70,638.9 L379.10,639.1 L379.50,639.1 L379.90,638.9 L380.30,639.5 L380.70,639.0 L381.10,639.0 L381.50,639.2 L381.90,639.0 L382.30,639.3 L382.70,639.1 L383.10,639.0 L383.50,638.9 L383.90,639.3 L384.30,639.1 L384.70,639.4 L385.10,639.2 L385.50,639.5 L385.90,639.1 L386.30,639.0 L386.70,639.1 L387.10,639.4 L387.50,639.3 L387.90,639.1 L388.30,639.0 L388.70,639.3 L389.10,639.5 L389.50,639.3 L389.90,638.9 L390.30,638.9 L390.70,639.0 L391.10,639.0 L391.50,638.9 L391.90,638.9 L392.30,639.3 L392.70,639.4 L393.10,639.0 L393.50,639.5 L393.90,639.2 L394.30,639.4 L394.70,639.5 L394.74,639.5 L394.86,629.4 L394.98,639.1 L395.10,639.3 L395.50,639.5 L395.90,639.0 L396.30,639.1 L396.70,639.4 L397.10,639.0 L397.50,639.1 L397.90,639.1 L398.30,639.3 L398.70,639.5 L399.10,639.0 L399.50,639.3 L399.90,639.3 L400.30,639.4 L400.70,639.2 L401.10,639.5 L401.50,639.1 L401.90,639.1 L402.30,639.0 L402.70,639.4 L403.10,639.2 L403.50,639.1 L403.90,639.0 L404.30,639.3 L404.70,639.3 L405.10,639.3 L405.50,639.1 L405.90,639.2 L406.30,639.0 L406.70,639.3 L407.10,638.9 L407.50,639.2 L407.90,639.4 L408.30,639.3 L408.70,639.0 L409.10,639.0 L409.50,639.4 L409.90,639.3 L410.30,639.4 L410.70,639.4 L411.10,639.2 L411.33,639.4 L411.45,619.9 L411.50,626.9 L411.57,638.5 L411.90,638.9 L412.30,639.1 L412.41,639.5 L412.53,630.0 L412.65,639.2 L412.70,639.0 L413.10,638.9 L413.50,639.3 L413.90,639.0 L414.30,638.9 L414.70,639.0 L414.91,639.3 L415.10,638.9 L415.50,637.7 L415.90,637.1 L416.07,637.2 L416.19,602.4 L416.30,632.2 L416.31,635.0 L416.41,636.4 L416.70,636.8 L417.10,637.8 L417.50,638.4 L417.90,639.0 L417.91,639.0 L418.30,638.9 L418.70,639.4 L419.10,639.0 L419.50,638.9 L419.52,639.5 L419.64,634.1 L419.76,639.3 L419.90,639.0 L420.30,639.2 L420.70,639.0 L421.10,639.4 L421.50,639.3 L421.90,639.3 L422.11,639.3 L422.23,635.5 L422.30,637.5 L422.35,639.3 L422.70,639.2 L423.10,639.0 L423.50,639.4 L423.90,639.3 L424.05,639.3 L424.17,635.6 L424.29,639.2 L424.30,639.2 L424.70,639.3 L425.10,638.9 L425.50,639.1 L425.90,639.2 L426.30,638.9 L426.70,639.2 L427.10,639.3 L427.50,639.2 L427.90,639.3 L428.30,639.3 L428.70,639.0 L429.10,639.1 L429.50,639.5 L429.90,639.1 L430.30,639.2 L430.70,639.0 L431.10,639.0 L431.50,639.0 L431.90,639.5 L432.30,639.3 L432.70,639.4 L433.10,639.5 L433.50,639.3 L433.90,639.5 L434.30,639.2 L434.70,639.2 L435.10,639.5 L435.50,639.4 L435.90,639.5 L436.30,639.2 L436.70,639.4 L437.10,639.1 L437.50,639.5 L437.90,639.5 L438.30,639.1 L438.70,639.5 L439.10,639.0 L439.50,639.0 L439.90,639.3 L440.30,639.1 L440.70,639.2 L441.10,639.3 L441.50,638.9 L441.90,639.3 L442.30,639.1 L442.70,639.2 L443.10,639.1 L443.50,639.3 L443.90,639.3 L444.30,639.1 L444.70,639.0 L445.10,639.1 L445.50,639.1 L445.90,638.9 L446.30,639.0 L446.70,639.4 L447.10,639.3 L447.50,639.5 L447.90,639.5 L448.30,639.4 L448.70,639.1 L449.10,639.0 L449.50,639.1 L449.90,639.2 L450.30,639.2 L450.70,639.2 L451.10,639.1 L451.50,639.4 L451.90,639.0 L452.30,639.1 L452.70,639.3 L453.10,639.2 L453.50,638.8 L453.90,638.5 L454.30,638.5 L454.70,637.4 L454.99,636.7 L455.10,636.3 L455.39,633.4 L455.50,594.4 L455.59,563.9 L455.79,631.8 L455.90,632.0 L456.09,631.5 L456.30,632.7 L456.70,634.4 L457.10,636.2 L457.19,636.0 L457.50,636.4 L457.90,636.6 L458.30,637.1 L458.70,637.3 L459.10,637.4 L459.50,637.9 L459.90,637.8 L460.30,638.0 L460.70,638.1 L461.10,638.6 L461.50,638.5 L461.90,638.4 L462.30,638.4 L462.70,638.7 L463.10,638.9 L463.50,638.9 L463.90,639.1 L464.30,639.1 L464.70,638.8 L465.10,638.8 L465.50,639.2 L465.90,639.2 L466.30,639.1 L466.70,639.3 L467.10,639.1 L467.50,639.0 L467.90,638.9 L468.30,638.8 L468.70,639.2 L469.10,639.4 L469.50,639.4 L469.90,639.1 L470.30,639.3 L470.70,639.4 L471.10,639.4 L471.50,639.2 L471.90,639.1 L472.30,639.2 L472.70,639.0 L473.10,639.0 L473.50,639.3 L473.90,639.5 L474.30,639.2 L474.70,639.1 L475.10,639.1 L475.50,639.2 L475.90,639.4 L476.30,639.2 L476.70,639.5 L477.10,639.0 L477.50,639.1 L477.90,639.2 L478.30,639.1 L478.70,639.4 L479.10,639.4 L479.50,639.5 L479.90,639.3 L480.30,638.9 L480.70,639.2 L481.10,639.2 L481.50,639.2 L481.90,639.1 L482.30,639.3 L482.70,639.4 L483.10,639.0 L483.50,639.3 L483.90,639.1 L484.30,639.2 L484.70,639.4 L485.10,639.5 L485.50,639.3 L485.90,639.0 L486.30,639.5 L486.70,639.0 L487.10,639.1 L487.50,639.4 L487.90,639.1 L488.30,639.1 L488.70,639.5 L489.10,639.5 L489.50,639.1 L489.90,639.1 L490.30,639.1 L490.70,639.0 L491.10,639.1 L491.50,639.5 L491.90,638.9 L492.30,639.0 L492.70,639.0 L493.10,638.9 L493.50,639.2 L493.90,639.3 L494.30,639.4 L494.70,639.3 L495.10,639.4 L495.38,638.8 L495.50,631.2 L495.62,639.5 L495.90,638.9 L496.30,639.1 L496.70,639.2 L497.10,639.1 L497.50,639.2 L497.90,638.9 L498.30,639.0 L498.70,639.5 L499.10,639.0 L499.50,639.4 L499.90,639.0 L500.30,639.5 L500.70,639.3 L501.10,639.3 L501.50,639.0 L501.90,638.9 L502.30,639.4 L502.70,639.0 L503.10,639.0 L503.50,639.4 L503.90,639.4 L504.30,638.9 L504.70,639.5 L505.10,639.2 L505.50,639.1 L505.90,639.0 L506.30,639.1 L506.70,639.5 L507.10,639.1 L507.50,639.0 L507.90,639.0 L508.30,639.0 L508.70,639.1 L509.10,639.4 L509.50,638.9 L509.90,639.0 L510.30,639.5 L510.70,639.5 L511.10,639.5 L511.50,639.0 L511.90,639.1 L512.30,639.5 L512.70,639.2 L513.10,639.3 L513.50,639.1 L513.90,638.9 L514.30,639.1 L514.70,639.3 L515.10,639.4 L515.50,639.2 L515.90,639.2 L516.30,639.2 L516.70,639.2 L517.10,639.2 L517.50,639.4 L517.90,639.0 L518.30,639.3 L518.70,639.5 L519.10,639.4 L519.50,639.0 L519.90,639.5 L520.30,639.4 L520.70,639.0 L521.10,639.1 L521.50,639.0 L521.90,638.9 L522.30,639.5 L522.70,639.1 L523.10,639.4 L523.50,639.0 L523.90,638.9 L524.30,639.4 L524.70,639.4 L525.10,639.5 L525.50,639.3 L525.90,639.2 L526.30,639.4 L526.70,639.0 L527.10,639.2 L527.50,639.2 L527.90,639.0 L528.30,639.3 L528.70,639.1 L529.10,639.2 L529.50,639.1 L529.90,639.1 L530.30,639.1 L530.70,639.3 L531.10,639.5 L531.50,639.5 L531.90,639.4 L532.30,639.4 L532.70,639.1 L533.10,639.5 L533.50,639.1 L533.90,639.0 L534.30,639.2 L534.70,639.3 L535.10,639.1 L535.50,639.3 L535.90,639.1 L536.30,639.5 L536.70,639.2 L537.10,639.2 L537.50,639.2 L537.90,639.4 L538.30,639.5 L538.70,639.2 L539.10,639.2 L539.50,639.3 L539.90,638.9 L540.30,639.2 L540.70,639.4 L541.10,639.4 L541.50,638.9 L541.90,639.4 L542.30,639.1 L542.70,639.5 L543.10,639.1 L543.50,639.0 L543.90,639.2 L544.30,639.4 L544.70,639.2 L545.10,639.4 L545.50,639.3 L545.90,639.1 L546.30,639.1 L546.70,639.2 L547.10,639.1 L547.50,639.1 L547.90,639.3 L548.30,639.4 L548.70,639.3 L549.10,639.0 L549.50,639.0 L549.90,639.1 L550.30,639.3 L550.70,639.0 L551.10,638.9 L551.50,639.1 L551.90,639.1 L552.30,638.9 L552.70,639.2 L553.10,639.5 L553.50,639.2 L553.90,639.3 L554.30,639.4 L554.70,639.4 L555.10,639.4 L555.50,639.2 L555.90,639.3 L556.30,639.0 L556.70,639.4 L557.10,639.1 L557.50,639.2 L557.90,639.4 L558.30,639.1 L558.70,639.0 L559.10,639.4 L559.50,639.3 L559.90,639.0 L560.30,638.9 L560.70,639.1 L561.10,638.9 L561.50,639.4 L561.90,639.0 L562.30,639.1 L562.70,639.1 L563.10,639.2 L563.50,639.2 L563.90,639.3 L564.30,639.3 L564.70,639.2 L565.10,639.0 L565.50,639.5 L565.90,639.3 L566.30,639.0 L566.70,639.2 L567.10,639.4 L567.50,639.5 L567.90,638.9 L568.30,638.9 L568.70,639.2 L569.10,639.2 L569.50,639.4 L569.90,639.4 L570.30,639.1 L570.70,639.2 L571.10,639.2 L571.50,639.4 L571.90,639.0 L572.30,639.1 L572.70,639.0 L573.10,639.3 L573.50,638.9 L573.90,639.5 L574.30,639.2 L574.70,639.2 L575.10,639.0 L575.50,639.0 L575.90,639.2 L576.30,639.4 L576.70,639.2 L577.10,639.1 L577.50,639.5 L577.90,639.3 L578.30,639.2 L578.70,639.0 L579.10,639.1 L579.50,639.4 L579.90,639.0 L580.30,639.2 L580.70,639.3 L581.10,639.1 L581.50,639.4 L581.90,639.4 L582.30,639.4 L582.70,639.3 L583.10,638.9 L583.50,638.8 L583.90,638.8 L584.30,638.4 L584.55,638.0 L584.70,637.7 L585.05,635.4 L585.10,628.0 L585.25,602.7 L585.45,632.8 L585.50,633.9 L585.55,633.5 L585.90,634.7 L586.30,636.3 L586.55,637.1 L586.70,637.5 L587.10,637.7 L587.50,638.2 L587.90,638.4 L588.30,638.0 L588.70,638.4 L589.10,638.5 L589.50,638.5 L589.90,638.6 L590.30,638.7 L590.70,639.0 L591.10,638.8 L591.50,638.7 L591.90,638.8 L592.30,639.0 L592.70,639.1 L593.10,638.9 L593.50,639.2 L593.90,638.9 L594.30,639.2 L594.70,639.2 L595.10,638.9 L595.50,639.3 L595.90,639.1 L596.30,639.2 L596.70,639.2 L597.10,639.3 L597.50,639.1 L597.90,638.9 L598.30,639.4 L598.70,639.4 L599.10,639.2 L599.50,639.2 L599.90,639.1 L600.30,639.4 L600.70,639.3 L601.10,639.0 L601.50,639.4 L601.90,639.5 L602.30,639.1 L602.70,639.5 L603.10,639.2 L603.50,639.0 L603.90,639.3 L604.30,639.1 L604.70,639.3 L605.10,639.2 L605.50,639.0 L605.90,639.2 L606.30,639.4 L606.70,639.2 L607.10,639.2 L607.50,639.4 L607.90,639.2 L608.30,639.2 L608.70,639.2 L609.10,639.4 L609.50,639.0 L609.90,639.0 L610.30,639.4 L610.70,639.2 L611.10,639.1 L611.50,639.4 L611.90,639.4 L612.30,639.2 L612.70,639.5 L613.10,639.4 L613.50,639.3 L613.90,639.1 L614.30,638.9 L614.70,639.3 L615.10,639.3 L615.50,639.1 L615.90,639.2 L616.30,639.2 L616.70,639.0 L617.10,639.3 L617.50,639.2 L617.90,639.1 L618.30,639.0 L618.70,639.2 L619.10,639.1 L619.50,639.3 L619.90,639.0 L620.30,639.1 L620.70,639.0 L621.10,639.1 L621.50,639.2 L621.90,639.0 L622.30,638.9 L622.70,639.2 L623.10,639.0 L623.50,639.2 L623.90,639.0 L624.30,639.0 L624.70,639.2 L625.10,639.5 L625.50,639.4 L625.90,639.2 L626.30,639.1" fill="none" stroke="#2a2a2a" stroke-width="0.85"/>
<path d="M369.50,739.7 L369.90,739.9 L370.30,739.9 L370.70,740.3 L371.10,739.8 L371.50,740.3 L371.90,740.0 L372.30,740.0 L372.70,739.9 L373.10,740.3 L373.50,739.8 L373.90,740.0 L374.30,740.0 L374.70,739.8 L375.10,739.8 L375.50,740.3 L375.90,740.2 L376.30,740.1 L376.70,740.2 L377.10,739.8 L377.50,740.1 L377.90,740.2 L378.30,739.8 L378.70,740.0 L379.10,740.3 L379.50,739.9 L379.90,740.2 L380.30,739.8 L380.70,740.1 L381.10,739.9 L381.50,740.0 L381.90,739.9 L382.30,740.2 L382.70,740.1 L383.10,740.0 L383.50,740.1 L383.90,740.0 L384.30,740.2 L384.70,739.9 L385.10,740.0 L385.50,740.1 L385.90,739.9 L386.30,739.7 L386.70,739.8 L387.10,740.1 L387.50,739.8 L387.90,740.2 L388.30,740.0 L388.70,740.3 L389.10,740.2 L389.50,740.1 L389.90,739.9 L390.30,739.7 L390.70,740.0 L391.10,740.1 L391.50,740.3 L391.90,739.8 L392.30,739.8 L392.70,740.3 L393.10,740.1 L393.50,740.0 L393.90,740.1 L394.30,739.8 L394.70,740.0 L395.10,740.1 L395.50,740.1 L395.90,739.8 L396.30,739.8 L396.70,740.1 L397.10,740.2 L397.50,739.8 L397.90,739.7 L398.30,739.7 L398.70,740.2 L399.10,739.9 L399.50,740.0 L399.90,740.3 L400.30,740.1 L400.70,739.9 L401.10,740.1 L401.50,739.7 L401.90,739.9 L402.30,740.1 L402.70,739.8 L403.10,739.7 L403.50,740.0 L403.90,739.9 L404.30,740.3 L404.70,739.8 L405.10,740.2 L405.50,739.9 L405.90,740.2 L406.30,740.0 L406.70,740.1 L407.10,739.9 L407.50,739.8 L407.90,740.0 L408.30,740.2 L408.70,739.9 L409.10,739.8 L409.50,739.9 L409.90,739.8 L410.30,739.9 L410.70,740.0 L411.10,740.0 L411.33,740.1 L411.45,731.1 L411.50,734.2 L411.57,739.5 L411.90,739.9 L412.30,739.8 L412.70,740.0 L413.10,739.9 L413.50,740.2 L413.90,740.1 L414.13,740.1 L414.25,731.5 L414.30,734.4 L414.38,740.0 L414.70,739.9 L415.10,739.7 L415.50,740.2 L415.90,740.0 L416.30,739.8 L416.70,740.3 L417.10,740.0 L417.50,740.1 L417.90,740.0 L418.30,739.8 L418.70,740.3 L419.10,739.8 L419.50,739.9 L419.90,740.3 L420.30,739.8 L420.70,740.0 L421.10,740.0 L421.50,739.8 L421.90,740.3 L422.30,739.9 L422.70,739.7 L423.10,740.0 L423.50,739.7 L423.90,740.1 L424.30,740.2 L424.70,740.2 L425.10,739.7 L425.50,740.1 L425.90,739.9 L426.30,740.0 L426.70,739.9 L427.10,739.9 L427.50,739.8 L427.90,740.1 L428.30,739.8 L428.70,740.3 L429.10,739.7 L429.50,740.3 L429.90,739.8 L430.30,739.8 L430.70,740.1 L431.10,740.0 L431.50,740.2 L431.90,740.0 L432.30,740.1 L432.70,739.7 L433.10,740.1 L433.50,740.0 L433.90,740.3 L434.30,739.7 L434.70,739.7 L435.10,740.1 L435.50,740.3 L435.90,740.0 L436.30,740.1 L436.70,740.0 L437.10,739.9 L437.50,740.0 L437.90,740.1 L438.30,739.7 L438.70,739.9 L439.10,740.1 L439.50,739.9 L439.90,740.0 L440.30,739.9 L440.70,739.9 L441.10,740.1 L441.50,740.1 L441.90,740.3 L442.30,740.0 L442.70,739.8 L443.10,739.9 L443.50,739.7 L443.90,739.8 L444.30,740.1 L444.70,740.1 L445.10,739.8 L445.50,739.8 L445.90,739.8 L446.30,739.8 L446.70,740.0 L447.10,739.9 L447.50,740.2 L447.90,740.0 L448.30,739.9 L448.70,740.0 L449.10,739.7 L449.50,740.1 L449.90,740.1 L450.30,739.9 L450.70,740.1 L451.10,739.9 L451.50,739.8 L451.90,739.8 L452.30,739.8 L452.70,740.0 L453.10,739.9 L453.50,739.8 L453.90,739.2 L454.30,739.3 L454.70,738.5 L454.99,737.7 L455.10,737.0 L455.39,734.1 L455.50,695.0 L455.59,664.7 L455.79,732.9 L455.90,732.7 L456.09,732.5 L456.30,733.0 L456.70,735.2 L457.10,736.9 L457.19,737.2 L457.50,737.6 L457.90,737.5 L458.30,738.1 L458.70,738.5 L459.10,738.2 L459.50,738.7 L459.90,739.1 L460.30,738.8 L460.70,739.3 L461.10,739.4 L461.50,739.3 L461.90,739.2 L462.30,739.3 L462.70,739.7 L463.10,739.5 L463.50,739.5 L463.90,739.7 L464.30,740.0 L464.70,739.6 L465.10,739.5 L465.50,740.1 L465.90,739.7 L466.30,739.8 L466.70,740.2 L467.10,739.8 L467.50,739.7 L467.90,740.2 L468.30,739.8 L468.70,739.8 L469.10,740.2 L469.50,739.8 L469.90,740.2 L470.30,739.9 L470.70,739.8 L471.10,739.8 L471.50,740.0 L471.90,740.0 L472.30,739.9 L472.70,740.0 L473.10,739.9 L473.50,740.2 L473.90,740.2 L474.30,740.1 L474.70,740.2 L475.10,739.7 L475.50,739.8 L475.90,739.8 L476.30,739.8 L476.70,740.3 L477.10,740.2 L477.50,740.2 L477.90,740.0 L478.30,739.8 L478.70,740.0 L479.10,739.7 L479.50,740.2 L479.90,739.9 L480.30,739.9 L480.70,740.3 L481.10,739.8 L481.50,740.3 L481.90,739.9 L482.30,740.1 L482.70,739.8 L483.10,740.2 L483.50,739.9 L483.90,739.9 L484.30,740.1 L484.70,740.1 L485.10,739.9 L485.50,739.8 L485.90,740.0 L486.30,739.7 L486.70,740.2 L487.10,739.9 L487.50,739.8 L487.90,739.9 L488.30,739.8 L488.70,739.9 L489.10,740.0 L489.50,739.9 L489.90,739.9 L490.30,739.9 L490.70,740.0 L491.10,740.2 L491.50,740.0 L491.90,740.2 L492.30,740.0 L492.70,739.8 L493.10,739.8 L493.50,740.2 L493.90,740.0 L494.30,739.9 L494.70,740.0 L495.10,740.2 L495.38,739.8 L495.50,729.5 L495.62,739.9 L495.90,739.7 L496.30,740.0 L496.70,740.0 L497.10,740.0 L497.50,740.0 L497.90,740.0 L498.30,740.1 L498.70,739.8 L499.10,740.3 L499.26,739.7 L499.38,738.3 L499.50,739.8 L499.90,740.2 L500.30,739.9 L500.70,739.7 L501.10,740.0 L501.50,740.2 L501.90,740.2 L502.30,740.2 L502.70,740.3 L503.10,739.7 L503.50,739.9 L503.90,739.8 L504.30,740.2 L504.70,740.0 L505.10,740.1 L505.50,740.2 L505.90,740.3 L506.30,740.1 L506.70,740.2 L507.10,740.0 L507.50,739.7 L507.90,740.2 L508.30,739.8 L508.70,739.8 L509.10,740.2 L509.50,739.9 L509.90,740.1 L510.30,739.7 L510.70,739.8 L511.10,740.1 L511.50,739.7 L511.90,740.0 L512.30,740.3 L512.70,739.8 L513.10,740.1 L513.50,740.1 L513.90,740.1 L514.30,740.2 L514.70,740.1 L515.10,739.7 L515.50,739.8 L515.90,740.0 L516.30,740.3 L516.70,739.8 L517.10,740.1 L517.50,739.8 L517.90,740.2 L518.30,740.0 L518.70,740.0 L519.10,740.1 L519.50,739.8 L519.90,740.1 L520.30,740.2 L520.70,740.2 L521.10,739.9 L521.50,739.8 L521.90,739.8 L522.30,740.2 L522.70,740.0 L523.10,739.9 L523.50,740.0 L523.90,740.1 L524.30,739.9 L524.70,739.9 L525.10,740.2 L525.50,740.2 L525.90,739.9 L526.30,739.7 L526.70,740.3 L527.10,740.1 L527.50,740.1 L527.90,739.9 L528.30,740.3 L528.70,740.0 L529.10,739.8 L529.50,739.8 L529.90,739.9 L530.30,740.1 L530.70,739.9 L531.10,740.3 L531.50,740.1 L531.90,740.0 L532.30,740.1 L532.70,740.1 L533.10,740.1 L533.50,740.0 L533.90,740.0 L534.30,740.0 L534.70,740.2 L535.10,739.8 L535.50,740.2 L535.90,739.9 L536.30,740.2 L536.70,739.7 L537.10,740.0 L537.50,740.0 L537.90,740.1 L538.30,739.8 L538.70,739.9 L539.10,739.8 L539.50,740.0 L539.90,740.0 L540.30,739.7 L540.70,739.8 L541.10,739.8 L541.50,740.3 L541.90,740.0 L542.30,740.0 L542.70,739.9 L543.10,740.1 L543.50,740.2 L543.90,740.1 L544.30,739.7 L544.70,740.0 L545.10,740.0 L545.50,739.7 L545.90,740.2 L546.30,739.9 L546.70,739.9 L547.10,740.1 L547.50,740.1 L547.90,740.0 L548.30,740.2 L548.70,740.0 L549.10,739.9 L549.50,739.7 L549.90,740.0 L550.30,739.9 L550.70,740.0 L551.10,739.9 L551.50,739.7 L551.90,739.7 L552.30,739.8 L552.70,739.8 L553.10,740.2 L553.50,740.0 L553.90,739.8 L554.30,740.1 L554.70,740.1 L555.10,739.7 L555.50,740.2 L555.90,739.8 L556.30,740.3 L556.70,739.8 L557.10,739.9 L557.50,739.8 L557.90,740.2 L558.30,740.2 L558.70,740.0 L559.10,739.8 L559.50,740.0 L559.90,740.1 L560.30,739.7 L560.70,740.3 L561.10,740.2 L561.50,740.3 L561.90,740.1 L562.30,740.1 L562.70,740.3 L563.10,739.9 L563.50,739.9 L563.90,739.8 L564.30,739.8 L564.70,740.2 L565.10,739.8 L565.50,740.1 L565.90,739.9 L566.30,740.2 L566.70,740.2 L567.10,740.1 L567.50,740.2 L567.90,739.7 L568.30,739.9 L568.70,739.9 L569.10,740.0 L569.50,740.1 L569.90,740.2 L570.30,740.1 L570.70,740.3 L571.10,740.1 L571.50,739.9 L571.90,740.0 L572.30,740.1 L572.70,740.2 L573.10,739.9 L573.50,739.9 L573.90,740.1 L574.30,739.8 L574.70,740.2 L575.10,739.7 L575.50,740.1 L575.90,740.0 L576.30,739.8 L576.70,740.0 L577.10,740.0 L577.50,740.3 L577.90,740.2 L578.30,740.1 L578.70,740.2 L579.10,740.2 L579.50,739.8 L579.90,740.2 L580.30,740.2 L580.70,740.3 L581.10,740.2 L581.50,739.9 L581.90,739.8 L582.30,740.1 L582.70,739.8 L583.10,740.1 L583.50,739.9 L583.90,739.9 L584.30,739.3 L584.55,738.9 L584.70,738.6 L585.08,735.7 L585.10,732.3 L585.28,705.1 L585.48,734.4 L585.50,734.5 L585.55,734.3 L585.90,735.6 L586.30,737.5 L586.55,738.4 L586.70,738.5 L587.10,738.4 L587.50,738.6 L587.90,739.1 L588.30,739.3 L588.70,739.3 L589.10,739.2 L589.50,739.6 L589.90,739.5 L590.30,739.5 L590.70,739.7 L591.10,739.7 L591.50,739.8 L591.90,739.9 L592.30,740.1 L592.70,739.6 L593.10,739.9 L593.50,740.2 L593.90,740.0 L594.30,740.0 L594.70,740.1 L595.10,739.7 L595.50,740.1 L595.90,740.0 L596.30,740.0 L596.70,739.9 L597.10,740.0 L597.50,739.8 L597.90,740.0 L598.30,739.8 L598.70,740.2 L599.10,740.2 L599.50,740.0 L599.90,740.1 L600.30,739.9 L600.70,740.0 L601.10,739.8 L601.50,740.2 L601.90,740.2 L602.30,740.2 L602.70,739.7 L603.10,740.2 L603.50,739.7 L603.90,740.0 L604.30,740.0 L604.70,739.7 L605.10,740.0 L605.50,740.2 L605.90,740.1 L606.30,739.9 L606.70,740.2 L607.10,739.9 L607.50,740.2 L607.90,739.9 L608.30,739.7 L608.70,740.3 L609.10,739.7 L609.50,739.9 L609.90,740.2 L610.30,739.8 L610.70,740.0 L611.10,740.2 L611.50,740.1 L611.90,739.9 L612.30,740.2 L612.70,740.2 L613.10,740.0 L613.50,740.1 L613.90,739.9 L614.30,739.9 L614.70,740.3 L615.10,740.3 L615.50,739.7 L615.90,739.8 L616.30,739.8 L616.70,740.2 L617.10,739.8 L617.50,739.8 L617.90,740.2 L618.30,739.8 L618.70,740.3 L619.10,740.0 L619.50,740.2 L619.90,740.2 L620.30,739.8 L620.70,740.2 L621.10,739.9 L621.50,739.8 L621.90,739.7 L622.30,740.1 L622.70,740.0 L623.10,739.9 L623.50,740.2 L623.90,739.8 L624.30,740.0 L624.70,739.8 L625.10,739.9 L625.50,740.2 L625.90,740.0 L626.30,739.8" fill="none" stroke="#2a2a2a" stroke-width="0.85"/>
<path d="M369.50,839.3 L369.90,839.6 L370.30,839.4 L370.70,839.7 L371.10,839.2 L371.50,839.7 L371.90,839.6 L372.30,839.7 L372.70,839.4 L373.10,839.2 L373.50,839.3 L373.90,839.6 L374.30,839.2 L374.70,839.3 L375.10,839.7 L375.50,839.7 L375.90,839.7 L376.30,839.7 L376.70,839.5 L377.10,839.7 L377.50,839.6 L377.90,839.5 L378.30,839.5 L378.70,839.2 L379.10,839.3 L379.50,839.3 L379.90,839.5 L380.30,839.3 L380.70,839.8 L381.10,839.5 L381.50,839.6 L381.90,839.7 L382.30,839.3 L382.70,839.7 L383.10,839.8 L383.50,839.4 L383.90,839.3 L384.30,839.7 L384.70,839.7 L385.10,839.7 L385.50,839.4 L385.90,839.6 L386.30,839.3 L386.70,839.3 L387.10,839.5 L387.50,839.6 L387.90,839.3 L388.30,839.8 L388.70,839.2 L389.10,839.8 L389.50,839.3 L389.90,839.7 L390.30,839.7 L390.70,839.8 L391.10,839.5 L391.50,839.6 L391.90,839.4 L392.30,839.7 L392.70,839.3 L393.10,839.7 L393.50,839.6 L393.90,839.2 L394.30,839.8 L394.70,839.4 L395.10,839.2 L395.50,839.4 L395.90,839.2 L396.30,839.4 L396.70,839.6 L397.10,839.8 L397.50,839.6 L397.90,839.7 L398.30,839.7 L398.70,839.6 L399.10,839.4 L399.50,839.4 L399.90,839.3 L400.30,839.5 L400.70,839.3 L401.10,839.6 L401.50,839.4 L401.90,839.5 L402.30,839.5 L402.70,839.6 L403.10,839.3 L403.50,839.4 L403.90,839.6 L404.30,839.3 L404.70,839.6 L405.10,839.8 L405.50,839.4 L405.90,839.8 L406.30,839.6 L406.70,839.8 L407.10,839.5 L407.50,839.7 L407.90,839.6 L408.30,839.3 L408.70,839.5 L409.10,839.5 L409.50,839.5 L409.90,839.6 L410.30,839.7 L410.70,839.7 L411.10,839.7 L411.33,839.3 L411.45,831.9 L411.50,834.7 L411.57,839.5 L411.90,839.2 L412.30,839.3 L412.63,839.6 L412.70,835.4 L412.75,833.3 L412.87,839.6 L413.10,839.4 L413.50,839.5 L413.90,839.5 L414.30,839.8 L414.70,839.5 L415.10,839.7 L415.43,839.2 L415.50,833.0 L415.55,828.7 L415.67,839.6 L415.90,839.7 L416.30,839.2 L416.70,839.8 L417.10,839.6 L417.50,839.4 L417.90,839.5 L418.30,839.3 L418.70,839.3 L419.10,839.7 L419.50,839.6 L419.90,839.7 L420.30,839.3 L420.70,839.3 L421.10,839.4 L421.50,839.5 L421.90,839.6 L422.30,839.4 L422.70,839.6 L423.10,839.6 L423.19,839.2 L423.31,834.8 L423.43,839.2 L423.50,839.6 L423.90,839.3 L424.30,839.2 L424.70,839.5 L425.10,839.5 L425.50,839.6 L425.90,839.4 L426.30,839.8 L426.70,839.7 L427.10,839.3 L427.50,839.2 L427.90,839.8 L428.30,839.4 L428.70,839.3 L429.10,839.3 L429.50,839.6 L429.90,839.3 L430.30,839.4 L430.70,839.6 L431.10,839.4 L431.50,839.6 L431.90,839.8 L432.30,839.7 L432.70,839.6 L433.10,839.6 L433.50,839.4 L433.90,839.6 L434.30,839.6 L434.70,839.6 L435.10,839.5 L435.50,839.7 L435.90,839.3 L436.30,839.6 L436.70,839.8 L437.10,839.2 L437.50,839.4 L437.90,839.8 L438.30,839.2 L438.70,839.7 L439.10,839.5 L439.50,839.2 L439.90,839.6 L440.30,839.2 L440.70,839.7 L441.10,839.4 L441.50,839.8 L441.90,839.7 L442.30,839.3 L442.70,839.4 L443.10,839.3 L443.50,839.7 L443.90,839.3 L444.30,839.2 L444.31,839.2 L444.43,838.3 L444.55,839.3 L444.70,839.4 L445.10,839.5 L445.50,839.5 L445.90,839.4 L446.30,839.8 L446.70,839.4 L447.10,839.5 L447.50,839.7 L447.90,839.3 L448.30,839.3 L448.70,839.7 L449.10,839.4 L449.50,839.7 L449.90,839.7 L450.30,839.4 L450.70,839.4 L451.10,839.2 L451.50,839.7 L451.90,839.4 L452.30,839.3 L452.70,839.2 L453.10,839.2 L453.50,839.4 L453.90,838.8 L454.30,838.7 L454.70,838.1 L454.99,837.3 L455.10,836.6 L455.41,834.1 L455.50,802.1 L455.61,763.9 L455.81,832.4 L455.90,832.1 L456.09,831.6 L456.30,833.0 L456.70,834.3 L457.10,836.0 L457.19,836.6 L457.50,837.0 L457.90,837.2 L458.30,837.2 L458.70,838.0 L459.10,837.7 L459.50,838.0 L459.90,838.6 L460.30,838.6 L460.70,838.7 L461.10,838.4 L461.50,839.0 L461.90,838.8 L462.30,838.7 L462.70,839.2 L463.10,839.3 L463.50,838.9 L463.90,839.2 L464.30,839.5 L464.70,839.2 L465.10,839.2 L465.50,839.5 L465.90,839.3 L466.30,839.7 L466.70,839.6 L467.10,839.6 L467.50,839.5 L467.90,839.2 L468.30,839.5 L468.70,839.5 L469.10,839.4 L469.50,839.5 L469.90,839.3 L470.30,839.3 L470.70,839.7 L471.10,839.4 L471.50,839.2 L471.90,839.8 L472.30,839.5 L472.70,839.6 L473.10,839.4 L473.50,839.3 L473.90,839.4 L474.30,839.7 L474.70,839.4 L475.10,839.7 L475.50,839.4 L475.90,839.7 L476.30,839.3 L476.70,839.5 L477.10,839.3 L477.50,839.3 L477.90,839.5 L478.30,839.4 L478.70,839.5 L479.10,839.3 L479.50,839.4 L479.90,839.4 L480.30,839.7 L480.70,839.2 L481.10,839.4 L481.50,839.7 L481.90,839.5 L482.30,839.4 L482.70,839.8 L483.10,839.3 L483.50,839.3 L483.90,839.2 L484.30,839.5 L484.70,839.7 L485.10,839.4 L485.25,839.4 L485.37,836.7 L485.49,839.2 L485.50,839.2 L485.90,839.6 L486.30,839.3 L486.70,839.5 L487.10,839.3 L487.50,839.6 L487.84,839.6 L487.90,837.6 L487.96,836.0 L488.08,839.6 L488.30,839.6 L488.70,839.2 L489.10,839.3 L489.50,839.4 L489.90,839.5 L490.30,839.4 L490.70,839.6 L491.10,839.4 L491.50,839.7 L491.90,839.4 L492.30,839.3 L492.70,839.2 L493.10,839.3 L493.50,839.3 L493.90,839.7 L494.30,839.4 L494.70,839.5 L495.10,839.8 L495.38,839.6 L495.50,828.8 L495.62,839.3 L495.90,839.4 L496.30,839.5 L496.70,839.4 L497.10,839.4 L497.32,839.0 L497.44,822.6 L497.50,831.4 L497.56,839.6 L497.90,839.5 L498.30,839.5 L498.70,839.6 L499.10,839.6 L499.50,839.2 L499.90,839.7 L500.02,837.1 L500.14,839.3 L500.30,839.8 L500.70,839.7 L501.10,839.4 L501.50,839.2 L501.90,839.5 L502.30,839.5 L502.70,839.4 L503.10,839.3 L503.50,839.5 L503.90,839.4 L504.30,839.7 L504.70,839.5 L505.10,839.4 L505.50,839.7 L505.90,839.5 L506.30,839.3 L506.70,839.4 L507.10,839.2 L507.50,839.5 L507.90,839.7 L508.30,839.8 L508.70,839.6 L509.10,839.3 L509.50,839.3 L509.90,839.3 L510.30,839.4 L510.70,839.6 L511.10,839.2 L511.50,839.5 L511.90,839.5 L512.30,839.6 L512.70,839.7 L513.10,839.4 L513.50,839.6 L513.90,839.4 L514.30,839.5 L514.70,839.6 L515.10,839.2 L515.50,839.5 L515.90,839.5 L516.30,839.3 L516.70,839.3 L517.10,839.7 L517.50,839.4 L517.90,839.3 L518.30,839.4 L518.70,839.5 L519.10,839.4 L519.50,839.4 L519.90,839.4 L520.30,839.3 L520.46,839.5 L520.58,832.7 L520.70,839.1 L521.10,839.6 L521.50,839.4 L521.90,839.8 L522.30,839.8 L522.70,839.3 L523.10,839.6 L523.50,839.4 L523.90,839.3 L524.30,839.7 L524.70,839.7 L525.10,839.7 L525.50,839.6 L525.90,839.8 L526.30,839.5 L526.70,839.6 L527.10,839.6 L527.50,839.7 L527.90,839.7 L528.30,839.4 L528.70,839.3 L529.10,839.5 L529.50,839.6 L529.90,839.4 L530.30,839.7 L530.70,839.7 L531.10,839.6 L531.50,839.5 L531.90,839.6 L532.30,839.3 L532.70,839.7 L533.10,839.3 L533.50,839.7 L533.90,839.6 L534.30,839.4 L534.70,839.3 L535.10,839.6 L535.50,839.5 L535.90,839.6 L536.30,839.3 L536.70,839.7 L537.10,839.5 L537.50,839.5 L537.90,839.6 L538.30,839.6 L538.70,839.5 L539.10,839.4 L539.50,839.5 L539.90,839.2 L540.30,839.4 L540.70,839.7 L541.10,839.3 L541.50,839.3 L541.90,839.7 L542.30,839.4 L542.70,839.5 L543.10,839.6 L543.50,839.6 L543.90,839.4 L544.30,839.7 L544.70,839.2 L545.10,839.7 L545.50,839.4 L545.90,839.6 L546.30,839.4 L546.70,839.6 L547.10,839.4 L547.50,839.6 L547.90,839.4 L548.30,839.7 L548.70,839.7 L549.10,839.3 L549.50,839.7 L549.90,839.8 L550.30,839.3 L550.70,839.3 L551.10,839.8 L551.50,839.8 L551.90,839.3 L552.30,839.7 L552.70,839.8 L553.10,839.4 L553.50,839.7 L553.90,839.4 L554.30,839.7 L554.70,839.5 L555.10,839.5 L555.50,839.3 L555.90,839.6 L556.30,839.6 L556.70,839.4 L557.10,839.2 L557.50,839.3 L557.90,839.4 L558.30,839.8 L558.70,839.6 L559.10,839.7 L559.50,839.6 L559.90,839.3 L560.30,839.4 L560.70,839.8 L561.10,839.7 L561.50,839.8 L561.90,839.7 L562.30,839.6 L562.70,839.7 L563.10,839.7 L563.50,839.5 L563.90,839.2 L564.30,839.4 L564.70,839.2 L565.10,839.4 L565.50,839.6 L565.90,839.4 L566.30,839.3 L566.70,839.3 L567.10,839.4 L567.50,839.5 L567.90,839.6 L568.30,839.8 L568.70,839.2 L569.10,839.4 L569.50,839.2 L569.90,839.8 L570.30,839.6 L570.70,839.6 L571.10,839.7 L571.50,839.2 L571.90,839.7 L572.30,839.4 L572.70,839.6 L573.10,839.4 L573.50,839.6 L573.90,839.4 L574.30,839.4 L574.70,839.3 L575.10,839.6 L575.50,839.5 L575.90,839.3 L576.30,839.4 L576.70,839.5 L577.10,839.4 L577.50,839.6 L577.90,839.7 L578.30,839.6 L578.70,839.7 L579.10,839.4 L579.50,839.7 L579.90,839.8 L580.30,839.5 L580.70,839.2 L581.10,839.2 L581.50,839.6 L581.90,839.7 L582.30,839.6 L582.70,839.5 L583.10,839.4 L583.50,839.1 L583.90,839.2 L584.30,839.2 L584.55,838.4 L584.70,838.0 L585.10,835.4 L585.30,801.8 L585.50,833.8 L585.55,833.6 L585.90,835.3 L586.30,837.0 L586.55,837.9 L586.70,837.7 L587.10,838.2 L587.50,838.4 L587.90,838.4 L588.30,838.8 L588.70,838.7 L589.10,838.7 L589.50,838.6 L589.90,839.2 L590.30,839.2 L590.70,838.9 L591.10,838.9 L591.50,839.1 L591.90,839.1 L592.30,839.5 L592.70,839.2 L593.10,839.4 L593.50,839.4 L593.90,839.3 L594.30,839.6 L594.70,839.4 L595.10,839.4 L595.50,839.5 L595.90,839.4 L596.30,839.3 L596.70,839.7 L597.10,839.6 L597.50,839.5 L597.90,839.5 L598.30,839.6 L598.70,839.4 L599.10,839.2 L599.50,839.5 L599.90,839.7 L600.30,839.3 L600.70,839.8 L601.10,839.4 L601.50,839.8 L601.90,839.7 L602.30,839.4 L602.70,839.3 L603.10,839.7 L603.50,839.8 L603.90,839.7 L604.30,839.5 L604.70,839.5 L605.10,839.7 L605.50,839.7 L605.90,839.7 L606.30,839.4 L606.70,839.7 L607.10,839.8 L607.50,839.5 L607.90,839.2 L608.30,839.3 L608.70,839.6 L609.10,839.5 L609.50,839.8 L609.90,839.6 L610.30,839.6 L610.70,839.3 L611.10,839.5 L611.50,839.6 L611.90,839.7 L612.30,839.7 L612.70,839.4 L613.10,839.5 L613.50,839.8 L613.90,839.3 L614.30,839.2 L614.70,839.3 L615.10,839.6 L615.50,839.4 L615.90,839.6 L616.30,839.7 L616.70,839.7 L617.10,839.2 L617.50,839.6 L617.90,839.7 L618.30,839.6 L618.70,839.7 L619.10,839.7 L619.50,839.6 L619.90,839.7 L620.30,839.5 L620.70,839.3 L621.10,839.4 L621.50,839.8 L621.90,839.4 L622.30,839.5 L622.70,839.7 L623.10,839.6 L623.50,839.7 L623.90,839.5 L624.30,839.5 L624.70,839.2 L625.10,839.3 L625.50,839.3 L625.90,839.5 L626.30,839.5" fill="none" stroke="#2a2a2a" stroke-width="0.85"/>
<text x="443.2" y="556.1" font-size="13.5" font-weight="bold" fill="#111" textLength="28.7" lengthAdjust="spacingAndGlyphs">6018</text>
<text x="550" y="557.1" font-size="16.5" fill="#333" textLength="76" lengthAdjust="spacingAndGlyphs">no enzyme</text>
<text x="464.9" y="570.8" font-size="7.2" fill="#333" textLength="21.3" lengthAdjust="spacingAndGlyphs">MH++</text>
<text x="570" y="593.8" font-size="13.5" font-weight="bold" fill="#111" textLength="35.2" lengthAdjust="spacingAndGlyphs">12035</text>
<text x="443.2" y="659.8" font-size="13.5" font-weight="bold" fill="#111" textLength="28.7" lengthAdjust="spacingAndGlyphs">6018</text>
<text x="600.5" y="660.3" font-size="14.3" fill="#333" textLength="26" lengthAdjust="spacingAndGlyphs">NEP</text>
<text x="465.5" y="676.7" font-size="7.2" fill="#333" textLength="22.3" lengthAdjust="spacingAndGlyphs">MH++</text>
<text x="569" y="696.8" font-size="13.5" font-weight="bold" fill="#111" textLength="34.3" lengthAdjust="spacingAndGlyphs">12036</text>
<text x="489" y="725" font-size="5" fill="#777">. .</text>
<text x="442.6" y="758.9" font-size="13.5" font-weight="bold" fill="#111" textLength="28.3" lengthAdjust="spacingAndGlyphs">6019</text>
<text x="595.3" y="760.5" font-size="14" fill="#333" textLength="34.4" lengthAdjust="spacingAndGlyphs">NEP2</text>
<text x="463.9" y="772.6" font-size="7" font-style="italic" fill="#444" textLength="22.3" lengthAdjust="spacingAndGlyphs">MH++</text>
<text x="569.1" y="795.6" font-size="13.5" font-weight="bold" fill="#111" textLength="34.2" lengthAdjust="spacingAndGlyphs">12037</text>
<text x="418.9" y="817.8" font-size="13.5" font-weight="bold" fill="#111" textLength="28.1" lengthAdjust="spacingAndGlyphs">4517</text>
<text x="424.3" y="828" font-size="7" font-style="italic" fill="#444" textLength="21.5" lengthAdjust="spacingAndGlyphs">MH++</text>
<text x="509.7" y="823.5" font-size="13.5" font-weight="bold" fill="#111" textLength="27.6" lengthAdjust="spacingAndGlyphs">9034</text>
<text x="41" y="926.8" font-size="14" fill="#000" textLength="550.5" lengthAdjust="spacingAndGlyphs">NEP and NEP2 concentrations in the reaction were 9.4 nM and 113 nM correspondingly.</text>
<text x="41" y="940.9" font-size="14" fill="#000" textLength="470.5" lengthAdjust="spacingAndGlyphs">Enzymes activities were normalized with standard substrate (see Methods).</text>
</svg>
</body></html>
